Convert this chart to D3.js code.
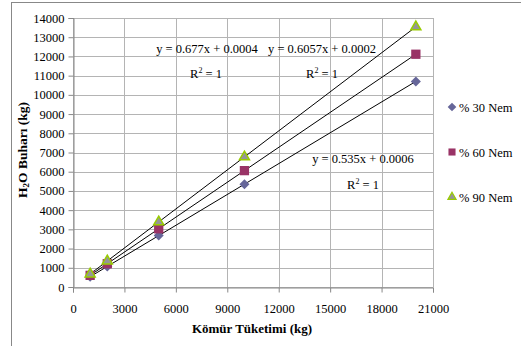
<!DOCTYPE html>
<html><head><meta charset="utf-8">
<script src="https://cdn.jsdelivr.net/npm/d3@7"></script>
<style>
html,body{margin:0;padding:0;background:#fff;}
svg{display:block;}
svg text{font-family:"Liberation Serif",serif !important;}
</style></head>
<body>
<script>
const xValues = [1000, 2000, 5000, 10000, 20000];
const seriesNames = ["% 30 Nem", "% 60 Nem", "% 90 Nem"];
const nem30 = [535, 1070, 2675, 5350, 10700];
const nem60 = [606, 1211, 3029, 6057, 12114];
const nem90 = [677, 1354, 3385, 6770, 13540];
const slopes = [0.535, 0.6057, 0.677];
const intercepts = [0.0006, 0.0002, 0.0004];
const equations = ["y = 0.535x + 0.0006", "y = 0.6057x + 0.0002", "y = 0.677x + 0.0004"];
const rSquared = ["1", "1", "1"];
const xTicks = [0, 3000, 6000, 9000, 12000, 15000, 18000, 21000];
const yTicks = d3.range(0, 14001, 1000);

const W = 521, H = 346;
const FONT = '"Liberation Serif", serif';
const svg = d3.select("body").append("svg").attr("width", W).attr("height", H)
  .style("font-family", FONT);

// outer frame
svg.append("rect").attr("x", 11.5).attr("y", 2.5).attr("width", 520).attr("height", 360)
  .attr("fill", "none").attr("stroke", "#888").attr("stroke-width", 1);

const x = d3.scaleLinear().domain([0, 21000]).range([73, 433]);
const y = d3.scaleLinear().domain([0, 14000]).range([287, 18]);

const g = svg.append("g");
// gridlines
g.selectAll(".hg").data(yTicks).enter().append("line")
  .attr("x1", x(0)).attr("x2", x(21000))
  .attr("y1", d => Math.round(y(d)) + 0.5).attr("y2", d => Math.round(y(d)) + 0.5)
  .attr("stroke", "#b4b4b4").attr("stroke-width", 1);
g.selectAll(".vg").data(xTicks).enter().append("line")
  .attr("y1", y(0)).attr("y2", y(14000))
  .attr("x1", d => Math.round(x(d)) + 0.5).attr("x2", d => Math.round(x(d)) + 0.5)
  .attr("stroke", "#b4b4b4").attr("stroke-width", 1);

// axes
const yAxis = d3.axisLeft(y).tickValues(yTicks).tickSize(5).tickPadding(4).tickFormat(d3.format("d"));
const xAxis = d3.axisBottom(x).tickValues(xTicks).tickSize(5).tickPadding(12).tickFormat(d3.format("d"));
const ya = svg.append("g").attr("transform", `translate(${Math.round(x(0)) + 0.5},0)`).call(yAxis);
const xa = svg.append("g").attr("transform", `translate(0,${Math.round(y(0)) + 0.5})`).call(xAxis);
[ya, xa].forEach(a => {
  a.attr("font-family", null).attr("font-size", null);
  a.select(".domain").attr("stroke", "#888");
  a.selectAll(".tick line").attr("stroke", "#888");
  a.selectAll("text").style("font-family", FONT).style("font-size", "12.5px").attr("fill", "#000");
});

// trendlines
slopes.forEach((s, i) => {
  svg.append("line")
    .attr("x1", x(xValues[0])).attr("y1", y(s * xValues[0] + intercepts[i]))
    .attr("x2", x(xValues[xValues.length - 1])).attr("y2", y(s * xValues[xValues.length - 1] + intercepts[i]))
    .attr("stroke", "#000").attr("stroke-width", 1);
});

// markers
const data = [nem30, nem60, nem90];
const sym = [
  {type: d3.symbolDiamond2, size: 64, fill: "#666699", stroke: "none"},
  {type: d3.symbolSquare2, size: 110, fill: "#993366", stroke: "none"},
  {type: d3.symbolTriangle2, size: 72, fill: "#969696", stroke: "#99cc00"}
];
data.forEach((vals, i) => {
  svg.append("g").selectAll("path").data(vals).enter().append("path")
    .attr("d", d3.symbol().type(sym[i].type).size(sym[i].size))
    .attr("transform", (d, j) => `translate(${x(xValues[j])},${y(d)})`)
    .attr("fill", sym[i].fill).attr("stroke", sym[i].stroke).attr("stroke-width", 1.5);
});

// equation labels
const eqPos = [[363, 163, 363, 189], [322, 53, 322, 78], [207, 53, 206, 78]];
equations.forEach((eq, i) => {
  const p = eqPos[i];
  svg.append("text").attr("x", p[0]).attr("y", p[1]).attr("text-anchor", "middle")
    .style("font-size", "12.5px").text(eq);
  const t = svg.append("text").attr("x", p[2]).attr("y", p[3]).attr("text-anchor", "middle")
    .style("font-size", "12.5px");
  t.append("tspan").text("R");
  t.append("tspan").attr("dy", -5).style("font-size", "8px").text("2");
  t.append("tspan").attr("dy", 5).text(" = " + rSquared[i]);
});

// legend
const legY = [107, 152, 197];
seriesNames.forEach((n, i) => {
  svg.append("path").attr("d", d3.symbol().type(sym[i].type).size(i === 1 ? 64 : 48)())
    .attr("transform", `translate(452,${legY[i]})`)
    .attr("fill", sym[i].fill).attr("stroke", sym[i].stroke).attr("stroke-width", 1.2);
  svg.append("text").attr("x", 459).attr("y", legY[i] + 4.5).style("font-size", "12.5px").text(n);
});

// axis titles
svg.append("text").attr("x", 252).attr("y", 333).attr("text-anchor", "middle")
  .attr("font-weight", "bold").style("font-size", "13px").text("Kömür Tüketimi (kg)");
const yt = svg.append("text").attr("transform", "translate(27,150) rotate(-90)")
  .attr("text-anchor", "middle").attr("font-weight", "bold").style("font-size", "13.5px");
yt.append("tspan").text("H");
yt.append("tspan").style("font-size", "9px").attr("dy", 2).text("2");
yt.append("tspan").attr("dy", -2).text("O Buharı (kg)");
</script>
</body></html>
